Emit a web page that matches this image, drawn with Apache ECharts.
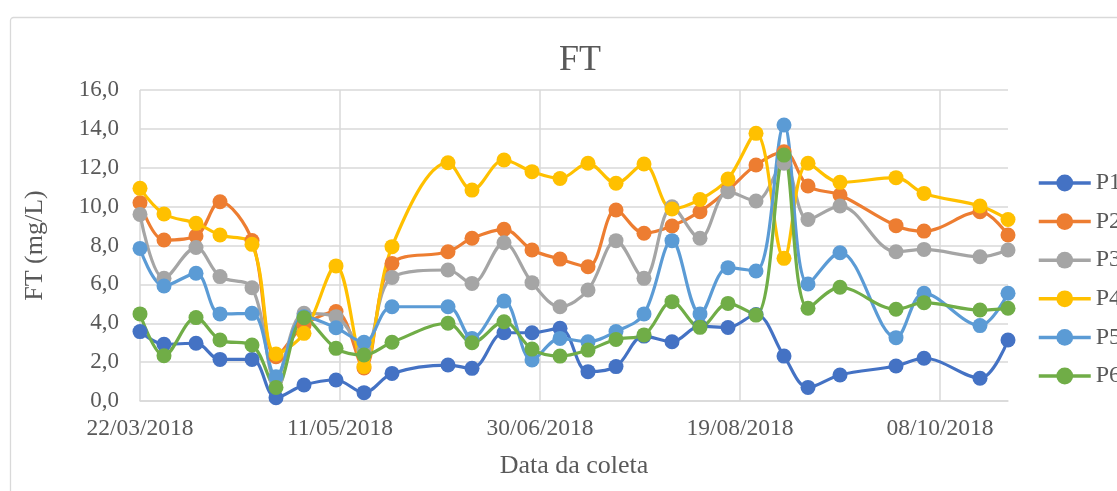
<!DOCTYPE html>
<html>
<head>
<meta charset="utf-8">
<script src="https://cdn.jsdelivr.net/npm/echarts@6/dist/echarts.min.js"></script>
<style>
  html, body { margin: 0; padding: 0; background: #ffffff; }
  #chart { width: 1117px; height: 491px; }
</style>
</head>
<body>
<div id="chart"></div>
<script>
// Sampling dates (dd/mm/yyyy)
const dates = [
  '22/03/2018', '28/03/2018', '05/04/2018', '11/04/2018', '19/04/2018', '25/04/2018',
  '02/05/2018', '10/05/2018', '17/05/2018', '24/05/2018', '07/06/2018', '13/06/2018',
  '21/06/2018', '28/06/2018', '05/07/2018', '12/07/2018', '19/07/2018', '26/07/2018',
  '02/08/2018', '09/08/2018', '16/08/2018', '23/08/2018', '30/08/2018', '05/09/2018',
  '13/09/2018', '27/09/2018', '04/10/2018', '18/10/2018', '25/10/2018'
];

// FT (mg/L) per sampling point
const P1 = [3.57, 2.92, 2.97, 2.14, 2.14, 0.17, 0.82, 1.08, 0.43, 1.42, 1.85, 1.68, 3.51, 3.51, 3.74,
            1.51, 1.77, 3.34, 3.05, 3.85, 3.78, 4.45, 2.31, 0.7, 1.34, 1.8, 2.2, 1.17, 3.14];
const P2 = [10.2, 8.28, 8.49, 10.25, 8.26, 2.28, 3.9, 4.6, 1.7, 7.08, 7.68, 8.37, 8.83, 7.77, 7.3,
            6.91, 9.83, 8.63, 9.0, 9.74, 10.85, 12.14, 12.82, 11.06, 10.6, 9.02, 8.74, 9.74, 8.54];
const P3 = [9.6, 6.31, 7.9, 6.4, 5.83, 1.1, 4.51, 4.34, 2.6, 6.36, 6.74, 6.05, 8.14, 6.09, 4.85,
            5.71, 8.25, 6.31, 9.99, 8.37, 10.77, 10.29, 12.23, 9.34, 10.03, 7.68, 7.8, 7.42, 7.77];
const P4 = [10.94, 9.62, 9.14, 8.54, 8.06, 2.42, 3.48, 6.95, 1.77, 7.94, 12.26, 10.85, 12.4, 11.8, 11.45,
            12.23, 11.2, 12.19, 9.88, 10.37, 11.42, 13.77, 7.34, 12.23, 11.25, 11.49, 10.68, 10.03, 9.34];
const P5 = [7.85, 5.92, 6.57, 4.48, 4.51, 1.25, 4.34, 3.77, 3.02, 4.85, 4.85, 3.22, 5.14, 2.11, 3.22,
            3.05, 3.57, 4.48, 8.25, 4.48, 6.86, 6.69, 14.2, 6.02, 7.63, 3.26, 5.54, 3.88, 5.54];
const P6 = [4.48, 2.33, 4.29, 3.14, 2.88, 0.7, 4.28, 2.71, 2.37, 3.02, 4.0, 3.0, 4.08, 2.67, 2.31,
            2.62, 3.17, 3.4, 5.11, 3.79, 5.02, 4.42, 12.65, 4.77, 5.85, 4.72, 5.06, 4.68, 4.77];

const seriesNames = ['P1', 'P2', 'P3', 'P4', 'P5', 'P6'];
const seriesValues = [P1, P2, P3, P4, P5, P6];
const colors = ['#4472C4', '#ED7D31', '#A5A5A5', '#FFC000', '#5B9BD5', '#70AD47'];

const DAY = 86400000;
function parseDate(s) {
  const [d, m, y] = s.split('/').map(Number);
  return Date.UTC(y, m - 1, d);
}
const t0 = parseDate(dates[0]);
const dayOffsets = dates.map(s => Math.round((parseDate(s) - t0) / DAY));

function dayToLabel(v) {
  const dt = new Date(t0 + v * DAY);
  const dd = String(dt.getUTCDate()).padStart(2, '0');
  const mm = String(dt.getUTCMonth() + 1).padStart(2, '0');
  return dd + '/' + mm + '/' + dt.getUTCFullYear();
}

const FONT = '"Liberation Serif", "Times New Roman", serif';
const TXT = '#595959';

const chart = echarts.init(document.getElementById('chart'), null, { renderer: 'canvas' });

chart.setOption({
  backgroundColor: '#ffffff',
  animation: false,
  graphic: [{
    type: 'rect',
    left: 8, top: 15,
    shape: { width: 1200, height: 600, r: 3 },
    style: { fill: 'none', stroke: '#d9d9d9', lineWidth: 1.3 },
    silent: true, z: -10
  }],
  title: {
    text: 'FT',
    left: 575, top: 38,
    textAlign: 'center',
    textStyle: { fontFamily: FONT, fontSize: 36, fontWeight: 'normal', color: TXT }
  },
  legend: {
    orient: 'vertical',
    left: 1032, top: 166,
    itemWidth: 52, itemHeight: 21,
    itemGap: 14.6,
    lineStyle: { width: 3.5 },
    textStyle: { fontFamily: FONT, fontSize: 24, color: TXT },
    data: seriesNames
  },
  grid: { left: 140, right: 109, top: 90, bottom: 90, containLabel: false },
  xAxis: {
    type: 'value',
    min: 0, max: dayOffsets[dayOffsets.length - 1], interval: 50,
    name: 'Data da coleta',
    nameLocation: 'middle', nameGap: 52,
    nameTextStyle: { fontFamily: FONT, fontSize: 26, color: TXT },
    axisLine: { show: true, lineStyle: { color: '#d9d9d9', width: 1.5 } },
    axisTick: { show: false },
    axisLabel: {
      fontFamily: FONT, fontSize: 23.5, color: TXT, margin: 16,
      showMaxLabel: false,
      formatter: v => (v % 50 === 0 ? dayToLabel(v) : '')
    },
    splitLine: { show: true, showMaxLine: false, lineStyle: { color: '#d9d9d9', width: 1.5 } }
  },
  yAxis: {
    type: 'value',
    min: 0, max: 16, interval: 2,
    name: 'FT (mg/L)',
    nameLocation: 'middle', nameGap: 92, nameRotate: 90,
    nameTextStyle: { fontFamily: FONT, fontSize: 26, color: TXT },
    axisLine: { show: false },
    axisTick: { show: false },
    axisLabel: {
      fontFamily: FONT, fontSize: 23, color: TXT, margin: 21,
      formatter: v => v.toFixed(1).replace('.', ',')
    },
    splitLine: { show: true, lineStyle: { color: '#d9d9d9', width: 1.5 } }
  },
  series: seriesNames.map((name, i) => ({
    name,
    type: 'line',
    smooth: 0.35,
    symbol: 'circle',
    symbolSize: 15,
    color: colors[i],
    lineStyle: { width: 3.2, color: colors[i] },
    itemStyle: { color: colors[i] },
    data: dayOffsets.map((d, k) => [d, seriesValues[i][k]])
  }))
});
</script>
</body>
</html>
